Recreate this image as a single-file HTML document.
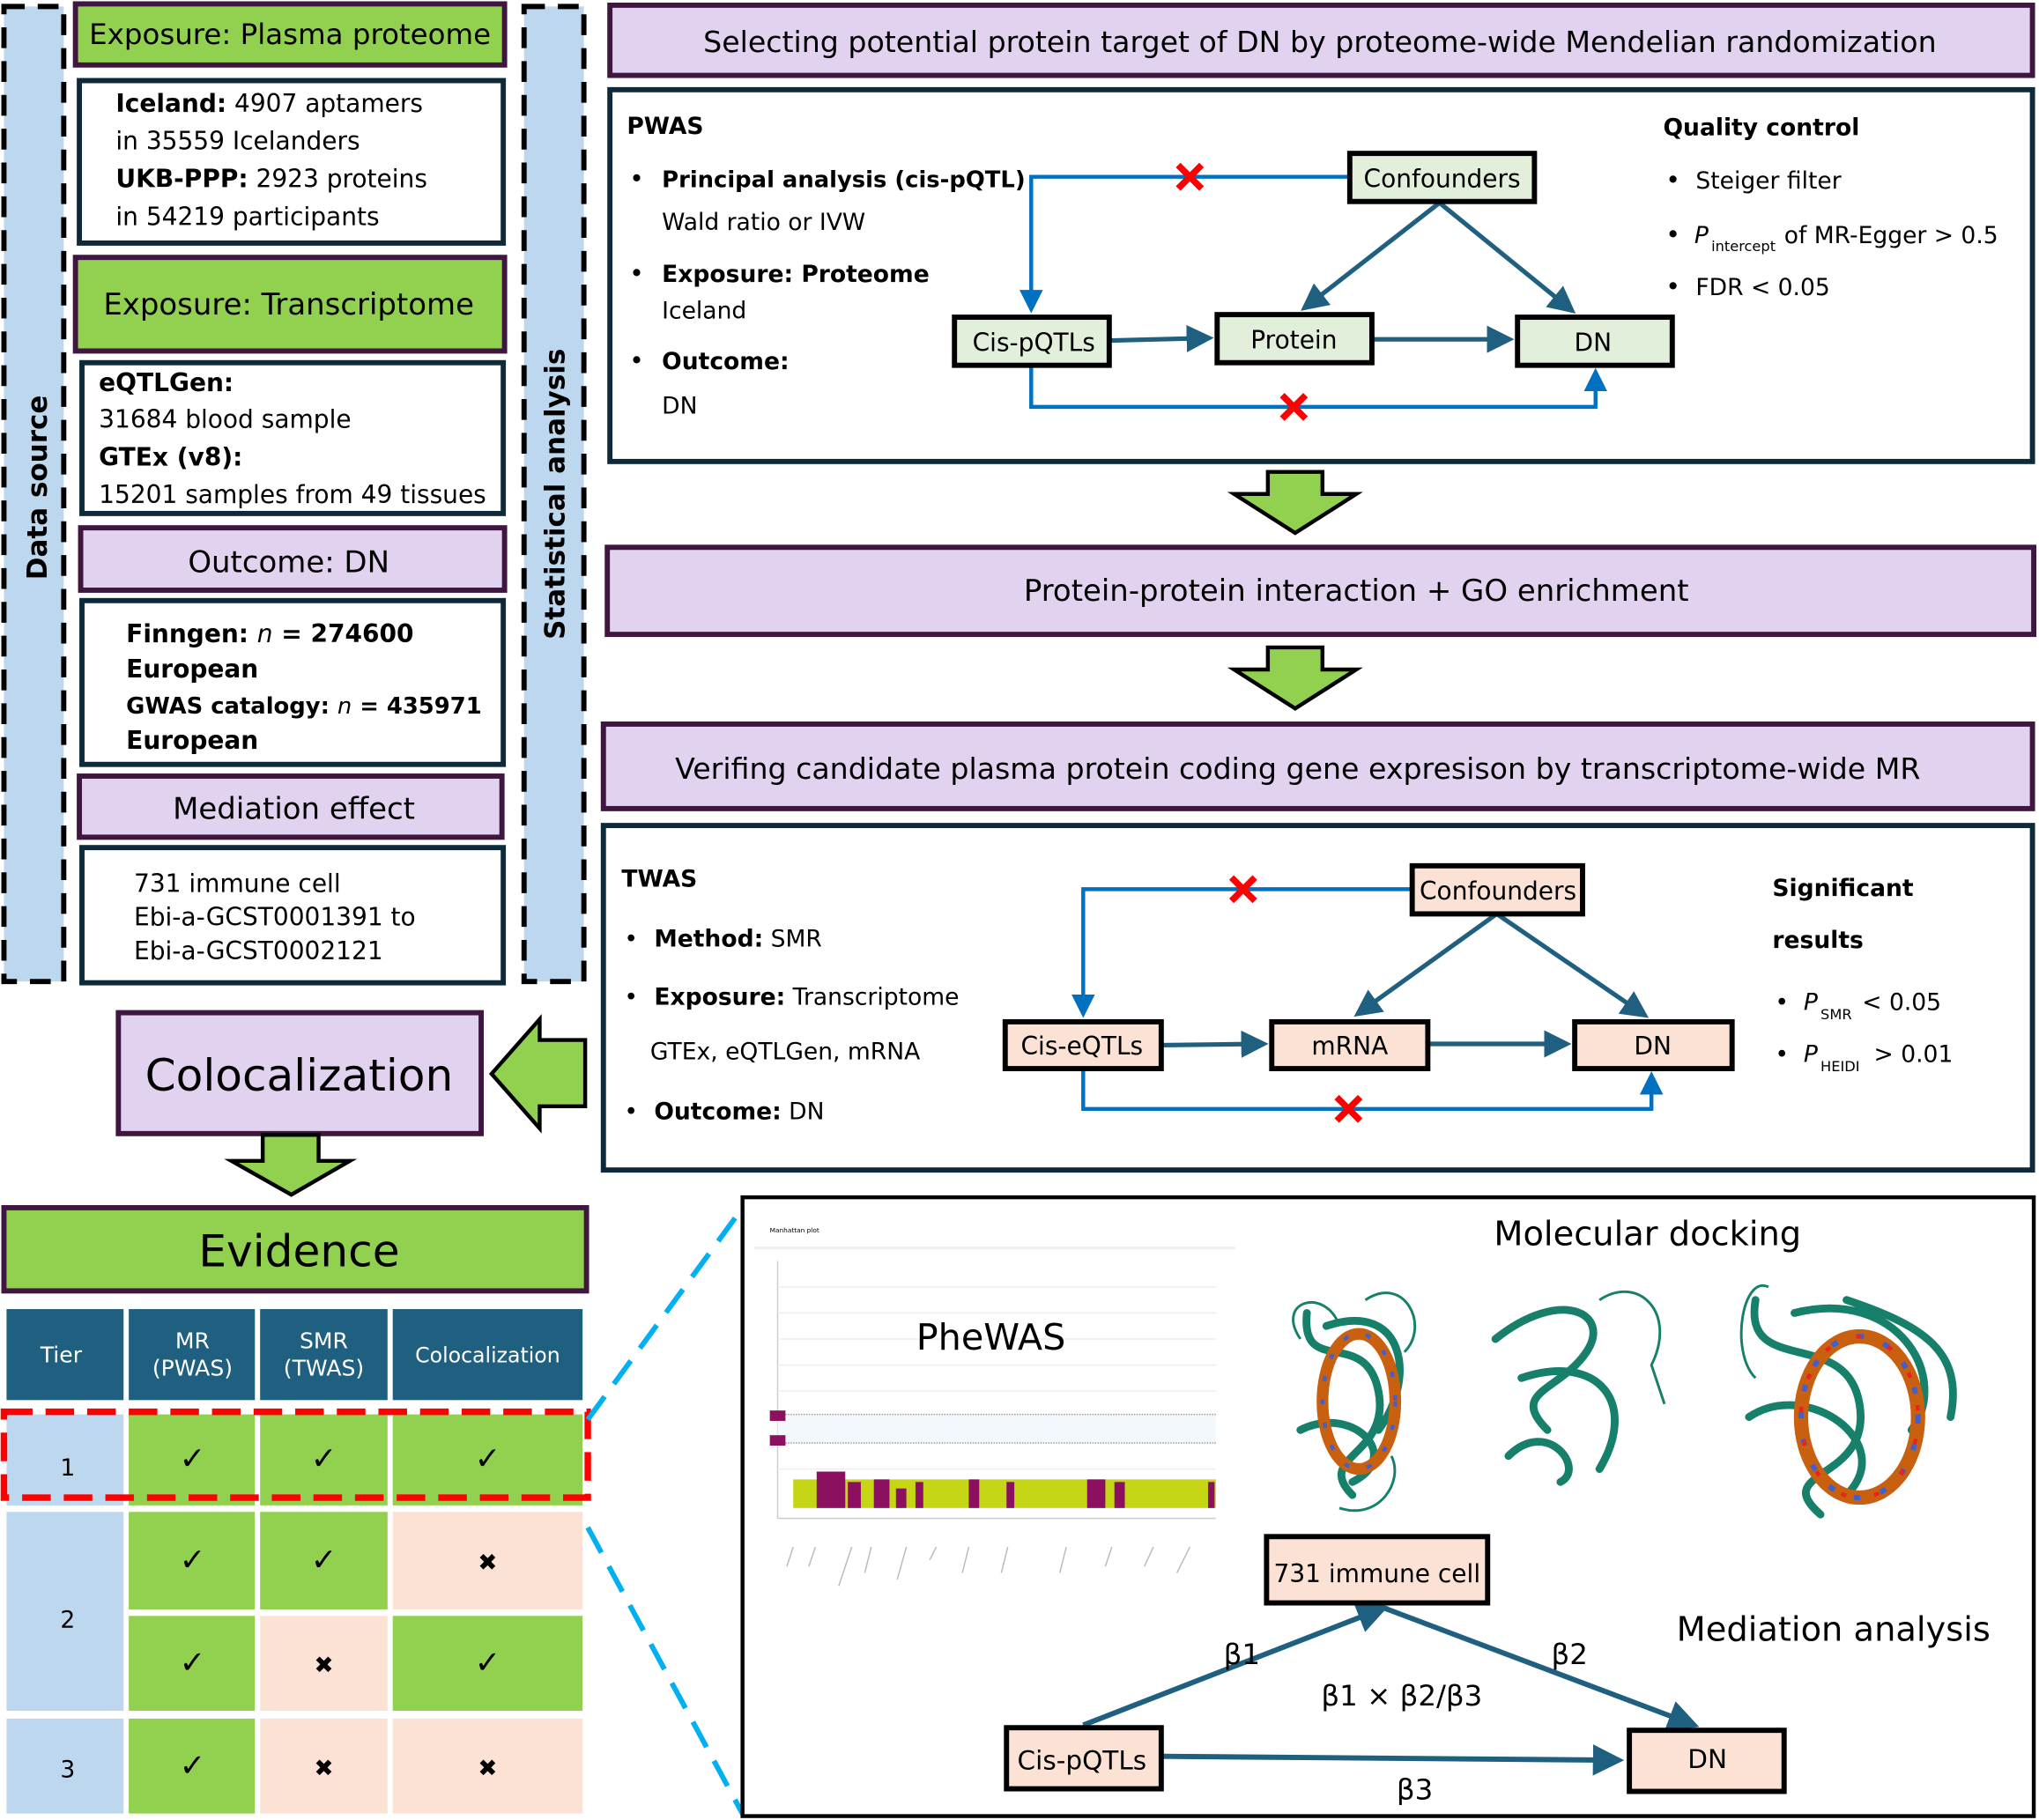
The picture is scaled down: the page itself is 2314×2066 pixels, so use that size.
<!DOCTYPE html>
<html><head><meta charset="utf-8"><style>
html,body{margin:0;padding:0;background:#fff}
svg{display:block}
text{font-family:"DejaVu Sans","Liberation Sans",sans-serif;fill:#000}
.b{font-weight:bold}
</style></head><body>
<svg width="2314" height="2066" viewBox="0 0 1568 1400" xmlns="http://www.w3.org/2000/svg">
<defs>
<marker id="ab" markerWidth="6" markerHeight="6" refX="5" refY="3" orient="auto" markerUnits="strokeWidth"><path d="M0,0 L6,3 L0,6 z" fill="#0070c0"/></marker>
<marker id="at" markerWidth="6" markerHeight="6" refX="5" refY="3" orient="auto" markerUnits="strokeWidth"><path d="M0,0 L6,3 L0,6 z" fill="#1f5f7f"/></marker>
<g id="rx"><path d="M-9,-9 L9,9 M9,-9 L-9,9" stroke="#ff0000" stroke-width="5"/></g>
</defs>

<!-- side columns -->
<rect x="3" y="5" width="46" height="750" fill="#bdd7ee" stroke="#000" stroke-width="4" stroke-dasharray="16,10"/>
<text class="b" font-size="21" transform="translate(36,375) rotate(-90)" text-anchor="middle">Data source</text>
<rect x="403" y="5" width="46" height="750" fill="#bdd7ee" stroke="#000" stroke-width="4" stroke-dasharray="16,10"/>
<text class="b" font-size="21" transform="translate(434,380) rotate(-90)" text-anchor="middle">Statistical analysis</text>

<!-- left stack -->
<rect x="58" y="3" width="330" height="47" fill="#92d050" stroke="#3f1640" stroke-width="4"/>
<text x="223" y="34" font-size="22" text-anchor="middle">Exposure: Plasma proteome</text>
<rect x="61" y="62" width="326" height="125" fill="#fff" stroke="#0d2a3a" stroke-width="4"/>
<text font-size="19"><tspan x="89" y="86"><tspan class="b">Iceland:</tspan> 4907 aptamers</tspan><tspan x="89" y="115">in 35559 Icelanders</tspan><tspan x="89" y="144"><tspan class="b">UKB-PPP:</tspan> 2923 proteins</tspan><tspan x="89" y="173">in 54219 participants</tspan></text>
<rect x="58" y="198" width="330" height="72" fill="#92d050" stroke="#3f1640" stroke-width="4"/>
<text x="222" y="242" font-size="23" text-anchor="middle">Exposure: Transcriptome</text>
<rect x="63" y="279" width="324" height="116" fill="#fff" stroke="#0d2a3a" stroke-width="4"/>
<text font-size="19"><tspan x="76" y="301" class="b">eQTLGen:</tspan><tspan x="76" y="329">31684 blood sample</tspan><tspan x="76" y="358" class="b">GTEx (v8):</tspan><tspan x="76" y="387">15201 samples from 49 tissues</tspan></text>
<rect x="62" y="406" width="326" height="48" fill="#e1d2f0" stroke="#3f1640" stroke-width="4"/>
<text x="222" y="440" font-size="23" text-anchor="middle">Outcome: DN</text>
<rect x="63" y="462" width="324" height="126" fill="#fff" stroke="#0d2a3a" stroke-width="4"/>
<text font-size="19"><tspan x="97" y="494"><tspan class="b">Finngen: </tspan><tspan font-style="italic">n</tspan><tspan class="b"> = 274600</tspan></tspan><tspan x="97" y="521" class="b">European</tspan><tspan x="97" y="549" font-size="17.5"><tspan class="b">GWAS catalogy: </tspan><tspan font-style="italic">n</tspan><tspan class="b"> = 435971</tspan></tspan><tspan x="97" y="576" class="b">European</tspan></text>
<rect x="61" y="597" width="325" height="47" fill="#e1d2f0" stroke="#3f1640" stroke-width="4"/>
<text x="226" y="630" font-size="23" text-anchor="middle">Mediation effect</text>
<rect x="63" y="652" width="324" height="104" fill="#fff" stroke="#0d2a3a" stroke-width="4"/>
<text font-size="19"><tspan x="103" y="686">731 immune cell</tspan><tspan x="103" y="712">Ebi-a-GCST0001391 to</tspan><tspan x="103" y="738">Ebi-a-GCST0002121</tspan></text>

<!-- colocalization -->
<rect x="91" y="779" width="279" height="93" fill="#e1d2f0" stroke="#3f1640" stroke-width="4"/>
<text x="230" y="839" font-size="34" text-anchor="middle">Colocalization</text>
<path d="M450,800 L415,800 L415,784 L378,826 L415,868 L415,851 L450,851 Z" fill="#92d050" stroke="#000" stroke-width="3"/>
<path d="M202,873 L245,873 L245,893 L269,893 L224,919 L178,893 L202,893 Z" fill="#92d050" stroke="#000" stroke-width="3"/>

<!-- evidence -->
<rect x="3" y="929" width="448" height="64" fill="#92d050" stroke="#3f1640" stroke-width="4"/>
<text x="230" y="974" font-size="34" text-anchor="middle">Evidence</text>
<g font-size="17" fill="#fff">
<rect x="5" y="1007" width="90" height="70" fill="#1f5f7f"/><rect x="99" y="1007" width="97" height="70" fill="#1f5f7f"/><rect x="200" y="1007" width="98" height="70" fill="#1f5f7f"/><rect x="302" y="1007" width="146" height="70" fill="#1f5f7f"/>
<text x="47" y="1048" text-anchor="middle" style="fill:#fff">Tier</text>
<text x="148" y="1037" text-anchor="middle" style="fill:#fff">MR</text><text x="148" y="1058" text-anchor="middle" style="fill:#fff">(PWAS)</text>
<text x="249" y="1037" text-anchor="middle" style="fill:#fff">SMR</text><text x="249" y="1058" text-anchor="middle" style="fill:#fff">(TWAS)</text>
<text x="375" y="1048" text-anchor="middle" style="fill:#fff" font-size="16">Colocalization</text>
</g>
<rect x="5" y="1088" width="90" height="70" fill="#bdd7ee"/>
<rect x="99" y="1088" width="97" height="70" fill="#92d050"/><rect x="200" y="1088" width="98" height="70" fill="#92d050"/><rect x="302" y="1088" width="146" height="70" fill="#92d050"/>
<rect x="5" y="1163" width="90" height="153" fill="#bdd7ee"/>
<rect x="99" y="1163" width="97" height="75" fill="#92d050"/><rect x="200" y="1163" width="98" height="75" fill="#92d050"/><rect x="302" y="1163" width="146" height="75" fill="#fbe2d5"/>
<rect x="99" y="1243" width="97" height="73" fill="#92d050"/><rect x="200" y="1243" width="98" height="73" fill="#fbe2d5"/><rect x="302" y="1243" width="146" height="73" fill="#92d050"/>
<rect x="5" y="1322" width="90" height="73" fill="#bdd7ee"/>
<rect x="99" y="1322" width="97" height="73" fill="#92d050"/><rect x="200" y="1322" width="98" height="73" fill="#fbe2d5"/><rect x="302" y="1322" width="146" height="73" fill="#fbe2d5"/>
<g font-size="18" text-anchor="middle">
<text x="52" y="1135">1</text><text x="52" y="1252">2</text><text x="52" y="1367">3</text>
</g>
<g font-size="24" text-anchor="middle">
<text x="148" y="1130">✓</text><text x="249" y="1130">✓</text><text x="375" y="1130">✓</text>
<text x="148" y="1208">✓</text><text x="249" y="1208">✓</text><text x="375" y="1208" font-size="18">✖</text>
<text x="148" y="1287">✓</text><text x="249" y="1287" font-size="18">✖</text><text x="375" y="1287">✓</text>
<text x="148" y="1366">✓</text><text x="249" y="1366" font-size="18">✖</text><text x="375" y="1366" font-size="18">✖</text>
</g>
<rect x="3" y="1086" width="449" height="66" fill="none" stroke="#ff0000" stroke-width="5" stroke-dasharray="22,10"/>
<line x1="452" y1="1092" x2="574" y2="925" stroke="#00b0f0" stroke-width="4" stroke-dasharray="22,12"/>
<line x1="452" y1="1175" x2="572" y2="1397" stroke="#00b0f0" stroke-width="4" stroke-dasharray="22,12"/>

<!-- right: title -->
<rect x="469" y="4" width="1094" height="54" fill="#e1d2f0" stroke="#3f1640" stroke-width="4"/>
<text x="1015" y="40" font-size="22.5" text-anchor="middle">Selecting potential protein target of DN by proteome-wide Mendelian randomization</text>
<!-- PWAS -->
<rect x="469" y="69" width="1094" height="286" fill="#fff" stroke="#0d2a3a" stroke-width="4"/>
<text font-size="19"><tspan x="482" y="103" class="b" font-size="18">PWAS</tspan>
<tspan x="484" y="144">•</tspan><tspan x="509" y="144" class="b" font-size="17.5">Principal analysis (cis-pQTL)</tspan>
<tspan x="509" y="177" font-size="18">Wald ratio or IVW</tspan>
<tspan x="484" y="217">•</tspan><tspan x="509" y="217" class="b" font-size="18">Exposure: Proteome</tspan>
<tspan x="509" y="245" font-size="18">Iceland</tspan>
<tspan x="484" y="284">•</tspan><tspan x="509" y="284" class="b" font-size="18">Outcome:</tspan>
<tspan x="509" y="318" font-size="18">DN</tspan>
<tspan x="1279" y="104" class="b" font-size="18">Quality control</tspan>
<tspan x="1281" y="145">•</tspan><tspan x="1304" y="145" font-size="18">Steiger filter</tspan>
<tspan x="1281" y="187">•</tspan><tspan x="1303" y="187" font-style="italic" font-size="18">P</tspan><tspan x="1316" y="193" font-size="11">intercept</tspan><tspan x="1372" y="187" font-size="18">of MR-Egger &gt; 0.5</tspan>
<tspan x="1281" y="227">•</tspan><tspan x="1304" y="227" font-size="18">FDR &lt; 0.05</tspan></text>
<polyline points="1037,136 793,136 793,238" fill="none" stroke="#0070c0" stroke-width="3" marker-end="url(#ab)"/>
<polyline points="793,281 793,313 1227,313 1227,286" fill="none" stroke="#0070c0" stroke-width="3" marker-end="url(#ab)"/>
<use href="#rx" x="915" y="136"/><use href="#rx" x="995" y="313"/>
<g stroke="#1f5f7f" stroke-width="3.5" marker-end="url(#at)">
<line x1="1107" y1="156" x2="1003" y2="237"/><line x1="1107" y1="156" x2="1209" y2="239"/>
<line x1="853" y1="262" x2="930" y2="260"/><line x1="1055" y1="261" x2="1161" y2="261"/>
</g>
<g stroke="#000" stroke-width="4" fill="#e2efda">
<rect x="1038" y="118" width="142" height="37"/><rect x="734" y="244" width="119" height="37"/><rect x="936" y="242" width="119" height="37"/><rect x="1167" y="244" width="119" height="37"/>
</g>
<g font-size="19" text-anchor="middle"><text x="1109" y="144">Confounders</text><text x="795" y="270">Cis-pQTLs</text><text x="995" y="268">Protein</text><text x="1225" y="270">DN</text></g>

<path d="M975,363 L1017,363 L1017,380 L1043,380 L996,410 L949,380 L975,380 Z" fill="#92d050" stroke="#000" stroke-width="3"/>
<rect x="467" y="421" width="1097" height="67" fill="#e1d2f0" stroke="#3f1640" stroke-width="4"/>
<text x="1043" y="462" font-size="23" text-anchor="middle">Protein-protein interaction + GO enrichment</text>
<path d="M975,498 L1017,498 L1017,515 L1043,515 L996,545 L949,515 L975,515 Z" fill="#92d050" stroke="#000" stroke-width="3"/>
<rect x="464" y="557" width="1099" height="65" fill="#e1d2f0" stroke="#3f1640" stroke-width="4"/>
<text x="998" y="599" font-size="22.5" text-anchor="middle">Verifing candidate plasma protein coding gene expresison by transcriptome-wide MR</text>

<!-- TWAS -->
<rect x="464" y="635" width="1099" height="265" fill="#fff" stroke="#0d2a3a" stroke-width="4"/>
<text font-size="18"><tspan x="478" y="682" class="b">TWAS</tspan>
<tspan x="480" y="728">•</tspan><tspan x="503" y="728"><tspan class="b">Method:</tspan> SMR</tspan>
<tspan x="480" y="773">•</tspan><tspan x="503" y="773"><tspan class="b">Exposure:</tspan> Transcriptome</tspan>
<tspan x="500" y="815">GTEx, eQTLGen, mRNA</tspan>
<tspan x="480" y="861">•</tspan><tspan x="503" y="861"><tspan class="b">Outcome:</tspan> DN</tspan>
<tspan x="1363" y="689" class="b">Significant</tspan>
<tspan x="1363" y="729" class="b">results</tspan>
<tspan x="1365" y="777">•</tspan><tspan x="1387" y="777" font-style="italic">P</tspan><tspan x="1400" y="784" font-size="11">SMR</tspan><tspan x="1432" y="777">&lt; 0.05</tspan>
<tspan x="1365" y="817">•</tspan><tspan x="1387" y="817" font-style="italic">P</tspan><tspan x="1400" y="824" font-size="11">HEIDI</tspan><tspan x="1441" y="817">&gt; 0.01</tspan></text>
<polyline points="1085,684 833,684 833,780" fill="none" stroke="#0070c0" stroke-width="3" marker-end="url(#ab)"/>
<polyline points="833,822 833,853 1270,853 1270,827" fill="none" stroke="#0070c0" stroke-width="3" marker-end="url(#ab)"/>
<use href="#rx" x="956" y="684"/><use href="#rx" x="1037" y="853"/>
<g stroke="#1f5f7f" stroke-width="3.5" marker-end="url(#at)">
<line x1="1151" y1="703" x2="1044" y2="780"/><line x1="1151" y1="703" x2="1265" y2="781"/>
<line x1="893" y1="804" x2="972" y2="803"/><line x1="1098" y1="803" x2="1205" y2="803"/>
</g>
<g stroke="#000" stroke-width="4" fill="#fbe2d5">
<rect x="1086" y="666" width="131" height="37"/><rect x="773" y="786" width="120" height="36"/><rect x="978" y="786" width="120" height="36"/><rect x="1211" y="786" width="121" height="36"/>
</g>
<g font-size="19" text-anchor="middle"><text x="1152" y="692">Confounders</text><text x="832" y="811">Cis-eQTLs</text><text x="1038" y="811">mRNA</text><text x="1271" y="811">DN</text></g>

<!-- bottom box -->
<rect x="571" y="921" width="993" height="476" fill="#fff" stroke="#000" stroke-width="3"/>
<g>
<text x="592" y="948" font-size="5" fill="#888">Manhattan plot</text>
<line x1="580" y1="960" x2="950" y2="960" stroke="#eee" stroke-width="2"/>
<line x1="598" y1="970" x2="598" y2="1168" stroke="#ccc"/>
<line x1="598" y1="1168" x2="935" y2="1168" stroke="#ccc"/>
<g stroke="#eee"><line x1="598" y1="990" x2="935" y2="990"/><line x1="598" y1="1010" x2="935" y2="1010"/><line x1="598" y1="1030" x2="935" y2="1030"/><line x1="598" y1="1050" x2="935" y2="1050"/><line x1="598" y1="1070" x2="935" y2="1070"/><line x1="598" y1="1130" x2="935" y2="1130"/></g>
<rect x="598" y="1088" width="337" height="22" fill="#f2f8fb"/>
<line x1="598" y1="1088" x2="935" y2="1088" stroke="#99a" stroke-dasharray="1,1"/>
<line x1="598" y1="1110" x2="935" y2="1110" stroke="#99a" stroke-dasharray="1,1"/>
<rect x="592" y="1085" width="12" height="8" fill="#8b1060"/><rect x="592" y="1104" width="12" height="8" fill="#8b1060"/>
<rect x="610" y="1138" width="325" height="22" fill="#c5d615"/>
<g fill="#8b1060"><rect x="628" y="1132" width="22" height="28"/><rect x="652" y="1140" width="10" height="20"/><rect x="672" y="1138" width="12" height="22"/><rect x="689" y="1145" width="8" height="15"/><rect x="704" y="1140" width="6" height="20"/><rect x="745" y="1138" width="8" height="22"/><rect x="774" y="1140" width="6" height="20"/><rect x="836" y="1138" width="14" height="22"/><rect x="857" y="1140" width="8" height="20"/><rect x="929" y="1140" width="5" height="20"/></g>
<g stroke="#bbb" stroke-width="1"><line x1="605" y1="1205" x2="610" y2="1190"/><line x1="622" y1="1205" x2="627" y2="1190"/><line x1="645" y1="1220" x2="655" y2="1190"/><line x1="665" y1="1210" x2="670" y2="1190"/><line x1="690" y1="1215" x2="697" y2="1190"/><line x1="715" y1="1200" x2="720" y2="1190"/><line x1="740" y1="1210" x2="745" y2="1190"/><line x1="770" y1="1210" x2="775" y2="1190"/><line x1="815" y1="1210" x2="820" y2="1190"/><line x1="850" y1="1205" x2="855" y2="1190"/><line x1="880" y1="1205" x2="887" y2="1190"/><line x1="905" y1="1210" x2="915" y2="1190"/></g>
</g>
<text x="762" y="1038" font-size="28" text-anchor="middle">PheWAS</text>
<text x="1267" y="958" font-size="26" text-anchor="middle">Molecular docking</text>
<g fill="none" stroke="#17806a" stroke-width="6" stroke-linecap="round">
<path d="M1005,1010 C1000,1060 1050,1020 1060,1070 S1010,1120 1040,1150 M1020,1020 C1080,1000 1090,1060 1060,1100 M1000,1100 C1040,1080 1080,1120 1040,1140"/>
<path d="M1150,1030 C1200,990 1240,1010 1220,1040 S1160,1070 1190,1100 M1170,1060 C1230,1040 1260,1080 1230,1130 M1160,1120 C1190,1090 1220,1130 1200,1140"/>
<path d="M1350,1000 C1340,1060 1420,1020 1430,1080 S1360,1130 1400,1165 M1380,1010 C1460,990 1500,1060 1470,1100 M1345,1090 C1390,1060 1460,1110 1420,1150 M1420,1000 C1480,1020 1510,1040 1500,1090"/>
</g>
<g fill="none" stroke="#17806a" stroke-width="2">
<path d="M1000,1030 C980,1000 1020,990 1030,1020 M1050,1000 C1080,980 1100,1020 1080,1040 M1230,1000 C1260,980 1290,1010 1270,1050 L1280,1080 M1360,990 C1340,980 1330,1040 1350,1060 M1030,1160 C1060,1170 1080,1140 1070,1120"/>
</g>
<ellipse cx="1045" cy="1078" rx="28" ry="52" fill="none" stroke="#c8600f" stroke-width="9"/>
<ellipse cx="1045" cy="1078" rx="28" ry="52" fill="none" stroke="#4060d0" stroke-width="3" stroke-dasharray="4,14"/>
<ellipse cx="1430" cy="1090" rx="45" ry="62" fill="none" stroke="#c8600f" stroke-width="11"/>
<ellipse cx="1430" cy="1090" rx="45" ry="62" fill="none" stroke="#4060d0" stroke-width="4" stroke-dasharray="5,16"/>
<ellipse cx="1430" cy="1090" rx="45" ry="62" fill="none" stroke="#ee2020" stroke-width="3" stroke-dasharray="4,22" stroke-dashoffset="9"/>

<!-- mediation -->
<g stroke="#1f5f7f" stroke-width="4" marker-end="url(#at)">
<line x1="833" y1="1327" x2="1064" y2="1237"/>
<line x1="1062" y1="1236" x2="1303" y2="1327"/>
<line x1="893" y1="1351" x2="1245" y2="1354"/>
</g>
<g stroke="#000" stroke-width="4" fill="#fbe2d5">
<rect x="974" y="1182" width="170" height="51"/><rect x="774" y="1329" width="119" height="47"/><rect x="1253" y="1331" width="119" height="47"/>
</g>
<g font-size="20" text-anchor="middle"><text x="1059" y="1217" font-size="19">731 immune cell</text><text x="832" y="1361">Cis-pQTLs</text><text x="1313" y="1360">DN</text></g>
<g font-size="22" text-anchor="middle"><text x="955" y="1280">β1</text><text x="1207" y="1280">β2</text><text x="1078" y="1312">β1 × β2/β3</text><text x="1088" y="1384">β3</text></g>
<text x="1410" y="1262" font-size="26" text-anchor="middle">Mediation analysis</text>
</svg>
</body></html>
